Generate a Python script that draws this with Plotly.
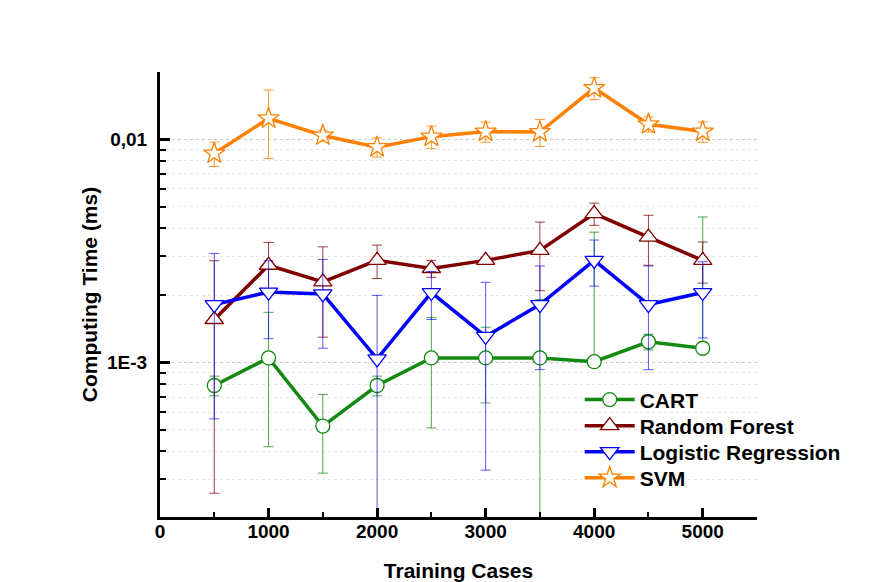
import plotly.graph_objects as go

# ---- data (computing time in ms, mean and standard deviation) ----
train_cases = [500, 1000, 1500, 2000, 2500, 3000, 3500, 4000, 4500, 5000]

cart_ms = [0.00079, 0.00105, 0.00052, 0.00079, 0.00105, 0.00105, 0.00105, 0.00101, 0.00124, 0.00116]
cart_sd = [0.00008, 0.00063, 0.00020, 0.00008, 0.00054, 0.00039, 0.00087, 0.00283, 0.00010, 0.00333]

rf_ms = [0.00156, 0.00273, 0.00230, 0.00287, 0.00264, 0.00287, 0.00318, 0.00465, 0.00365, 0.00287]
rf_sd = [0.00130, 0.00072, 0.00100, 0.00049, 0.00023, 0.00010, 0.00108, 0.00053, 0.00092, 0.00060]

lr_ms = [0.00182, 0.00207, 0.00203, 0.00104, 0.00206, 0.00131, 0.00182, 0.00287, 0.00182, 0.00206]
lr_sd = [0.00126, 0.00079, 0.00087, 0.00096, 0.00050, 0.00098, 0.00089, 0.00067, 0.00089, 0.00077]

svm_ms = [0.00864, 0.01241, 0.01040, 0.00923, 0.01028, 0.01083, 0.01078, 0.01697, 0.01168, 0.01083]
svm_sd = [0.00108, 0.00421, 0.00060, 0.00090, 0.00119, 0.00113, 0.00148, 0.00190, 0.00090, 0.00113]

series_names = ["CART", "Random Forest", "Logistic Regression", "SVM"]
y_tick_vals = [0.001, 0.01]
y_tick_text = ["1E-3", "0,01"]
x_tick_vals = [0, 1000, 2000, 3000, 4000, 5000]

FONT = "Liberation Sans, Arial, sans-serif"

styles = [
    dict(color="#128a12", err="rgba(18,138,18,0.75)", symbol="circle", size=14),
    dict(color="#800000", err="rgba(128,0,0,0.75)", symbol="triangle-up", size=16),
    dict(color="#0000ff", err="rgba(0,0,255,0.65)", symbol="triangle-down", size=16),
    dict(color="#ff8000", err="rgba(255,128,0,0.8)", symbol="star", size=16),
]
legend_ids = ["legend", "legend2", "legend3", "legend4"]
legend_rows_y = [0.263, 0.2045, 0.146, 0.0876]

fig = go.Figure()
for name, ys, sd, st, lid in zip(series_names, [cart_ms, rf_ms, lr_ms, svm_ms],
                                 [cart_sd, rf_sd, lr_sd, svm_sd], styles, legend_ids):
    # lower bar omitted when the lower bound would be negative (not drawable on log axis)
    sd_minus = [e if v - e > 0 else 0 for v, e in zip(ys, sd)]
    fig.add_trace(go.Scatter(
        x=train_cases, y=ys, name=name, mode="lines+markers", legend=lid,
        line=dict(color=st["color"], width=3.5),
        marker=dict(symbol=st["symbol"], size=st["size"], color="white",
                    line=dict(color=st["color"], width=1.3)),
        error_y=dict(type="data", array=sd, arrayminus=sd_minus, symmetric=False,
                     color=st["err"], thickness=1, width=5),
    ))

minor_vals = [m * 10 ** e for e in (-4, -3) for m in range(2, 10)] + [0.02]

legend_common = dict(x=0.703, xanchor="left", yanchor="middle",
                     bgcolor="rgba(0,0,0,0)", itemwidth=50,
                     font=dict(family=FONT, size=21, weight="bold", color="black"))
legends = {lid: dict(legend_common, y=yy) for lid, yy in zip(legend_ids, legend_rows_y)}

fig.update_layout(
    width=870, height=582,
    paper_bgcolor="white", plot_bgcolor="white",
    margin=dict(l=160, r=113, t=72, b=65),
    font=dict(family=FONT, size=19, color="black", weight="bold"),
    showlegend=True,
    **legends,
    xaxis=dict(
        range=[0, 5500], tickvals=x_tick_vals, automargin=False,
        showline=True, linecolor="black", linewidth=3,
        ticks="inside", ticklen=9, tickwidth=2.5, tickcolor="black",
        minor=dict(tickvals=[500 * k for k in range(1, 12, 2)], ticks="inside",
                   ticklen=5, tickwidth=2, tickcolor="black"),
        showgrid=False, zeroline=False,
        tickfont=dict(family=FONT, size=19, weight="bold"),
        ticklabelstandoff=-5,
        title=dict(text="Training Cases", standoff=24,
                   font=dict(family=FONT, size=21, weight="bold")),
    ),
    yaxis=dict(
        type="log", range=[-3.6913, -1.6985], automargin=False,
        tickvals=y_tick_vals, ticktext=y_tick_text,
        showline=True, linecolor="black", linewidth=3,
        ticks="inside", ticklen=10, tickwidth=2.5, tickcolor="black",
        showgrid=True, gridcolor="#c8c8c8", griddash="dot", gridwidth=1,
        minor=dict(tickvals=minor_vals, ticks="inside", ticklen=6, tickwidth=2,
                   tickcolor="black", showgrid=True, gridcolor="#e6e6e6",
                   griddash="dot", gridwidth=1),
        zeroline=False,
        tickfont=dict(family=FONT, size=19, weight="bold"),
        ticklabelstandoff=6,
        title=dict(text="Computing Time (ms)", standoff=4,
                   font=dict(family=FONT, size=21, weight="bold")),
    ),
)

fig.write_html("out.html")
